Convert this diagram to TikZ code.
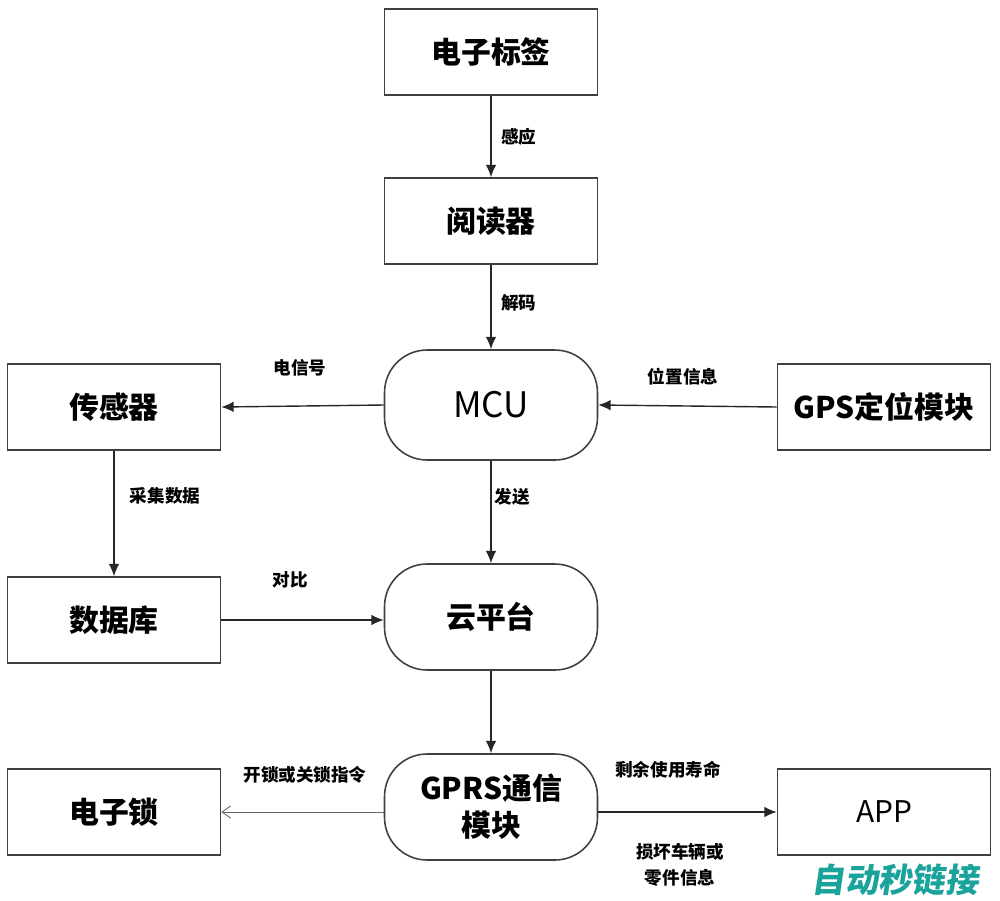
\documentclass[tikz,border=0pt]{standalone}
\usepackage{fontspec}
\setmainfont{Noto Sans CJK SC}
\newfontfamily\cjk{Noto Sans CJK SC}
\usetikzlibrary{arrows.meta}
\definecolor{wm}{HTML}{1AA39A}
\tikzset{
  box/.style={draw=black!75, line width=0.9pt, minimum width=4.26cm, minimum height=1.72cm, inner sep=0pt, font=\cjk\bfseries\fontsize{17}{21}\selectfont, align=center},
  pill/.style={box, rounded corners=0.85cm, minimum height=2.12cm},
  arr/.style={draw=black!85, line width=0.8pt, -{Latex[length=7pt,width=6pt]}},
  thinarr/.style={draw=black!60, line width=0.5pt, -{Straight Barb[length=5pt,width=7pt]}},
  lbl/.style={font=\cjk\bfseries\fontsize{10}{12}\selectfont, align=center}
}
\begin{document}
\begin{tikzpicture}[x=0.02cm,y=-0.02cm]
\useasboundingbox (0,0) rectangle (1000,900);
\node[box] (tag) at (491,52) {电子标签};
\node[box] (reader) at (491,221) {阅读器};
\node[pill, minimum height=2.2cm] (mcu) at (491,405) {\mdseries\fontsize{20}{24}\selectfont MCU};
\node[box] (sensor) at (114,407) {传感器};
\node[box] (gps) at (884,407) {GPS定位模块};
\node[pill] (cloud) at (491,617) {云平台};
\node[box] (db) at (114,620) {数据库};
\node[pill] (gprs) at (491,807) {GPRS通信\\模块};
\node[box] (lock) at (114,812) {电子锁};
\node[box] (app) at (884,812) {\mdseries APP};

\draw[arr] (tag) -- (reader) node[pos=0.5, right=2pt, lbl] (l1) {感应};
\draw[arr] (reader) -- (mcu) node[pos=0.45, right=2pt, lbl] (l2) {解码};
\draw[arr] (mcu.west) -- (sensor.east);
\node[lbl] (l3) at (300,368) {电信号};
\draw[arr] (gps.west) -- (mcu.east);
\node[lbl] (l4) at (683,377) {位置信息};
\draw[arr] (sensor) -- (db);
\node[lbl] (l5) at (165,496) {采集数据};
\draw[arr] (mcu) -- (cloud);
\node[lbl] (l6) at (512,497) {发送};
\draw[arr] (db.east) -- (cloud.west |- db.east);
\node[lbl] (l7) at (290,580) {对比};
\draw[arr] (cloud) -- (gprs);
\draw[thinarr] (gprs.west |- lock.east) -- (lock.east);
\node[lbl] (l8) at (305,775) {开锁或关锁指令};
\draw[arr] (gprs.east |- app.west) -- (app.west);
\node[lbl] (l9) at (668,770) {剩余使用寿命};
\node[lbl, font=\cjk\bfseries\fontsize{10}{15}\selectfont] (l10) at (680,865) {损坏车辆或\\零件信息};
\node[font=\cjk\bfseries\fontsize{19}{22}\selectfont, text=wm, xslant=0.15] (wmk) at (897,880) {自动秒链接};
\end{tikzpicture}
\end{document}
